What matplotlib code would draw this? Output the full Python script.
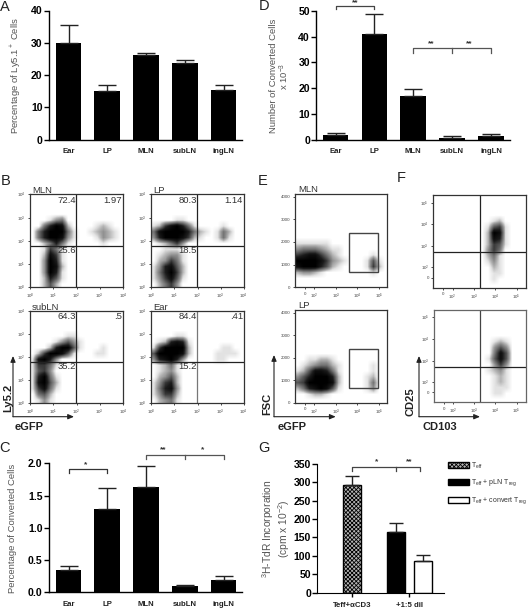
import matplotlib
matplotlib.use("Agg")
import matplotlib.pyplot as plt
import numpy as np
from matplotlib.colors import LinearSegmentedColormap
from matplotlib.patches import Patch, Rectangle

plt.rcParams['font.family'] = ['Liberation Sans', 'DejaVu Sans']
plt.rcParams['mathtext.fontset'] = 'custom'
plt.rcParams['mathtext.rm'] = 'Liberation Sans'
plt.rcParams['mathtext.it'] = 'Liberation Sans'
plt.rcParams['mathtext.bf'] = 'Liberation Sans:bold'
plt.rcParams['mathtext.default'] = 'regular'
plt.rcParams['hatch.linewidth'] = 0.6

# ---------- data ----------
tissues = ["Ear", "LP", "MLN", "subLN", "ingLN"]
pct_ly51 = [29.8, 15.1, 26.1, 23.8, 15.5]
pct_ly51_top = [35.5, 16.9, 26.7, 24.7, 17.0]
n_converted = [1.9, 41.2, 17.0, 0.6, 1.3]
n_converted_top = [2.5, 48.8, 19.6, 1.3, 2.1]
pct_converted = [0.34, 1.29, 1.64, 0.10, 0.19]
pct_converted_top = [0.41, 1.61, 1.96, 0.115, 0.25]

g_groups = ["Teff+αCD3", "+1:5 dil"]
g_names = ["T$_{eff}$", "T$_{eff}$ + pLN T$_{reg}$", "T$_{eff}$ + convert T$_{reg}$"]
g_values = [293, 165, 87]
g_tops = [316, 190, 102]

# hand-read dot density of each flow plot, top row first, 0 (no dots) .. 9 (solid)
B_MLN = ["0000000000000000", "0000000000000000", "0000000000000000", "0000000000000000",
         "0001340000000000", "0047982000012100", "0479994100123210", "0479983100013210",
         "0024741000001000", "0016410000000000", "0028610000000000", "0039710000000000",
         "0039820000000000", "0039710000000000", "0027510000000000", "0025200000000000"]
B_LP = ["0000000000000000", "0000000000000000", "0000000000000000", "0000000000000000",
        "0000110000000000", "1268974100001000", "4899997421014200", "3799986210014100",
        "0124630000000000", "0011100000000000", "0123310000000000", "0236410000000000",
        "1378520000000000", "1479620000000000", "1368510000000000", "0246300000000000"]
B_SUB = ["0000000000000000", "0000000000000000", "0000000000000000", "0000000000000000",
         "0000001100000000", "0000135310000000", "0002799510001000", "0269985100011000",
         "1897300000000000", "1664100000000000", "1563000000000000", "1794100000000000",
         "1895200000000000", "1684100000000000", "0452000000000000", "0131000000000000"]
B_EAR = ["0000000000000000", "0000000000000000", "0000000000000000", "0000000000000000",
         "0000110000000000", "0127871000000000", "1699992000001100", "5999982000011110",
         "3789730000011000", "0124100000000000", "0123100000000000", "0235200000000000",
         "1367200000000000", "1478300000000000", "1366200000000000", "0234100000000000"]
E_MLN = ["0000000000000000", "0000000000000000", "0000000000000000", "0000000000000000",
         "0000000000000000", "0000000000000000", "0000000000000000", "0000000000000000",
         "1111110000000000", "3444321100000000", "6788642100000100", "9999863210001510",
         "8999752100001620", "2332100000000100", "0000000000000000", "0000000000000000"]
E_LP = ["0000000000000000", "0000000000000000", "0000000000000000", "0000000000000000",
        "0000000000000000", "0000000000000000", "0000000000000000", "0000000000000000",
        "0011221000000000", "0123442100000100", "1258874100000100", "3579997200001200",
        "5699998200001400", "2478985100001300", "0012210000000000", "0000000000000000"]
F_TOP = ["0000000000000000", "0000000000000000", "0000000000000000", "0000000000000000",
         "0000000000120000", "0000000001561000", "0000000002981000", "0000000002871000",
         "0000000002651000", "0000000003640000", "0000000002410000", "0000000001310000",
         "0000000000210000", "0000000000110000", "0000000000100000", "0000000000000000"]
F_BOT = ["0000000000000000", "0000000000000000", "0000000000000000", "0000000000000000",
         "0000000000000000", "0000000000121000", "0000000000353000", "0000000000485000",
         "0000000001585000", "0000000000363000", "0000000001231000", "0000000000121000",
         "0000000000121000", "0000000000111000", "0000000000110000", "0000000000000000"]

# ---------- layout helpers (pixel coordinates of the 528x608 picture) ----------
W, H = 528, 608
fig = plt.figure(figsize=(W / 100, H / 100), dpi=100, facecolor="white")
DARK = "#333333"
GREY = "#555555"


def ax_px(l, t, r, b):
    return fig.add_axes([l / W, 1 - b / H, (r - l) / W, (b - t) / H])


def ftext(x, y, s, **kw):
    kw.setdefault("ha", "center")
    kw.setdefault("va", "center")
    return fig.text(x / W, 1 - y / H, s, **kw)


def bar_panel(box, values, tops, ymax, yticks, yfmt, centers_px):
    ax = ax_px(*box)
    l, t, r, b = box
    step = (centers_px[-1] - centers_px[0]) / 4
    ax.set_xlim((l - centers_px[0]) / step, (r - centers_px[0]) / step)
    ax.set_ylim(0, ymax)
    x = np.arange(len(values))
    ax.bar(x, values, width=0.66, color="black", edgecolor="black", linewidth=0)
    ax.errorbar(x, values, yerr=[np.zeros(len(values)), np.array(tops) - np.array(values)],
                fmt="none", ecolor="#222222", elinewidth=1, capsize=6.5, capthick=1)
    ax.set_xticks(x, tissues, fontsize=5.6, fontweight="bold", color="#222222")
    ax.tick_params(axis="x", length=0, pad=6)
    ax.set_yticks(yticks, [yfmt % v for v in yticks], fontsize=7.6, fontweight="bold")
    ax.tick_params(axis="y", length=3.5, width=1, pad=0.8)
    for s in ("top", "right"):
        ax.spines[s].set_visible(False)
    for s in ("left", "bottom"):
        ax.spines[s].set_linewidth(1)
    return ax


def bracket(ax, xs, y, drop, color="#333333"):
    ax.plot([xs[0], xs[0], xs[-1], xs[-1]], [y - drop, y, y, y - drop], color=color, lw=0.9, clip_on=False)
    for xm in xs[1:-1]:
        ax.plot([xm, xm], [y, y - drop], color=color, lw=0.9, clip_on=False)


def stars(ax, x, y, s):
    ax.text(x, y, s, fontsize=6, fontweight="bold", ha="center", va="center", color="#333333", clip_on=False)


FLOW = LinearSegmentedColormap.from_list(
    "flow", [(0, "#ffffff"), (1 / 9, "#e2e2e2"), (2 / 9, "#b4b4b4"), (3 / 9, "#909090"),
             (5 / 9, "#565656"), (7 / 9, "#1c1c1c"), (1, "#000000")])


def flow_panel(box, grid, xlim, ylim, xticks, xlabs, yticks, ylabs, edge=DARK):
    ax = ax_px(*box)
    vals = np.array([[int(c) for c in row] for row in grid], dtype=float)
    ax.imshow(vals, extent=[xlim[0], xlim[1], ylim[0], ylim[1]], aspect="auto", origin="upper",
              cmap=FLOW, vmin=0, vmax=9, interpolation="bilinear", zorder=0)
    ax.set_xlim(*xlim)
    ax.set_ylim(*ylim)
    ax.set_xticks(xticks, xlabs, fontsize=3.2, color="#444444")
    ax.set_yticks(yticks, ylabs, fontsize=3.2, color="#444444")
    ax.tick_params(length=1.6, width=0.5, pad=1.5)
    for s in ax.spines.values():
        s.set_linewidth(0.9)
        s.set_color(edge)
    return ax


# ---------- A ----------
centers = [68.5, 107, 146, 185, 223.5]
axA = bar_panel((48.5, 10.5, 242, 139.5), pct_ly51, pct_ly51_top, 40, [0, 10, 20, 30, 40], "%d", centers)
ftext(16, 76, "Percentage of Ly5.1$^+$ Cells", rotation=90, fontsize=6.8, color=GREY)

# ---------- D ----------
centersD = [335.5, 374, 413, 452, 491]
axD = bar_panel((316, 11, 510, 139.7), n_converted, n_converted_top, 50, [0, 10, 20, 30, 40, 50], "%d", centersD)
ftext(280, 76, "Number of Converted Cells\nx 10$^{-3}$", rotation=90, fontsize=6.8, color=GREY, linespacing=1.0)
bracket(axD, [0, 1], 52.0, 1.3, "#444444")
stars(axD, 0.5, 53.2, "**")
bracket(axD, [2, 3, 4], 35.5, 1.7, GREY)
stars(axD, 2.45, 37.3, "**")
stars(axD, 3.45, 37.3, "**")

# ---------- C ----------
axC = bar_panel((48.5, 463.3, 242, 592.3), pct_converted, pct_converted_top, 2.0, [0, 0.5, 1.0, 1.5, 2.0], "%.1f", centers)
ftext(13, 528, "Percentage of Converted Cells", rotation=90, fontsize=6.8, color=GREY)
bracket(axC, [0, 1], 1.907, 0.062)
stars(axC, 0.45, 1.975, "*")
bracket(axC, [2, 3, 4], 2.13, 0.066, GREY)
stars(axC, 2.45, 2.205, "**")
stars(axC, 3.45, 2.205, "*")

# ---------- G ----------
axG = ax_px(317, 463.7, 444, 592.7)
g_x = [0, 0.768, 1.232]
axG.set_xlim(-0.61, 1.605)
axG.set_ylim(0, 350)
axG.bar(g_x[0], g_values[0], width=0.314, facecolor="#b5b5b5", edgecolor="black", hatch="xxxxxxxx", linewidth=1)
axG.bar(g_x[1], g_values[1], width=0.314, color="black", edgecolor="black", linewidth=1)
axG.bar(g_x[2], g_values[2], width=0.314, color="white", edgecolor="black", linewidth=1)
axG.errorbar(g_x, g_values, yerr=[[0, 0, 0], np.array(g_tops) - np.array(g_values)], fmt="none",
             ecolor="#222222", elinewidth=1, capsize=4.8, capthick=1)
axG.set_xticks([0, 1], g_groups, fontsize=5.6, fontweight="bold", color="#222222")
axG.tick_params(axis="x", length=3, width=1, pad=3.5)
axG.set_yticks(range(0, 351, 50), [str(v) for v in range(0, 351, 50)], fontsize=7.6, fontweight="bold")
axG.tick_params(axis="y", length=3.5, width=1, pad=0.8)
axG.spines["top"].set_visible(False)
axG.spines["right"].set_visible(False)
bracket(axG, [0, 0.768, 1.194], 342, 11, "#444444")
stars(axG, 0.43, 355, "*")
stars(axG, 1.0, 355, "**")
ftext(276, 529, "$^3$H-TdR Incorporation\n(cpm x 10$^{-2}$)", rotation=90, fontsize=7.4, color=GREY, linespacing=1.0)
handles = [Patch(facecolor="#b5b5b5", edgecolor="black", hatch="xxxxxxxx", lw=1),
           Patch(facecolor="black", edgecolor="black", lw=1),
           Patch(facecolor="white", edgecolor="black", lw=1)]
leg = fig.legend(handles, g_names, loc="upper left", bbox_to_anchor=(448 / W, 1 - 460.5 / H), frameon=False,
                 fontsize=5.0, handlelength=3.0, handleheight=1.0, handletextpad=0.35, labelspacing=1.0,
                 borderpad=0, borderaxespad=0, labelcolor="#333333")

# ---------- B ----------
dec = [0, 1, 2, 3, 4]
dec_l = ["10$^{%d}$" % d for d in dec]


def b_panel(box, grid, name, nums, hline, edge=DARK, vcolor="#222222"):
    ax = flow_panel(box, grid, (0, 4), (0, 4), dec, dec_l, dec, dec_l, edge)
    ax.axvline(1.99, color=vcolor, lw=0.9)
    ax.axhline(hline, color="#222222", lw=0.9)
    ax.text(1.97, 3.75, nums[0], ha="right", va="center", fontsize=6.8, color=DARK)
    ax.text(3.97, 3.75, nums[1], ha="right", va="center", fontsize=6.8, color=DARK)
    ax.text(1.97, hline - 0.17, nums[2], ha="right", va="center", fontsize=6.8, color=DARK)
    ftext(box[0] + 2, box[1] - 3.6, name, ha="left", fontsize=6.8, color=DARK)
    return ax


b_panel((30, 194.3, 123, 287.3), B_MLN, "MLN", ["72.4", "1.97", "25.6"], 1.76)
b_panel((151.3, 194.3, 243.7, 287.3), B_LP, "LP", ["80.3", "1.14", "18.5"], 1.76)
b_panel((30, 310.7, 123, 403.3), B_SUB, "subLN", ["64.3", ".5", "35.2"], 1.77)
b_panel((151.3, 310.7, 243.7, 403.3), B_EAR, "Ear", ["84.4", ".41", "15.2"], 1.77, vcolor="#777777")

# ---------- E ----------
ex_t = [1.57, 2, 3, 4, 5]
ex_l = ["0", "10$^{2}$", "10$^{3}$", "10$^{4}$", "10$^{5}$"]
ey_t = [0, 1000, 2000, 3000, 4000]
ey_l = [str(v) for v in ey_t]
for box, grid, name, gate in (((294.7, 194.3, 387.3, 287.3), E_MLN, "MLN", (662, 2382)),
                              ((294.7, 310.3, 387.3, 403), E_LP, "LP", (647, 2368))):
    ax = flow_panel(box, grid, (1.1, 5.38), (0, 4100), ex_t, ex_l, ey_t, ey_l)
    ax.add_patch(Rectangle((3.63, gate[0]), 1.34, gate[1] - gate[0], fill=False, ec="#444444", lw=1))
    ftext(box[0] + 4, box[1] - 5, name, ha="left", fontsize=6.8, color=DARK)

# ---------- F ----------
fx_t = [1.56, 2, 3, 4, 5]
fy_l = ["0", "10$^{2}$", "10$^{3}$", "10$^{4}$", "10$^{5}$"]
axF1 = flow_panel((433.3, 195, 526, 288), F_TOP, (1.09, 5.44), (1.02, 5.375), fx_t, ex_l, [1.5, 2, 3, 4, 5], fy_l)
axF1.axvline(3.3, color="#222222", lw=0.9)
axF1.axhline(2.7, color="#222222", lw=0.9)
axF2 = flow_panel((433.7, 310.3, 526, 402.3), F_BOT, (1.09, 5.44), (1.08, 5.32), fx_t, ex_l, [1.54, 2, 3, 4, 5], fy_l, "#666666")
axF2.axvline(3.28, color="#444444", lw=0.9)
axF2.axhline(2.69, color="#222222", lw=0.9)

# ---------- arrows and axis names ----------
ov = fig.add_axes([0, 0, 1, 1], facecolor="none")
ov.set_xlim(0, W)
ov.set_ylim(H, 0)
ov.axis("off")
for x0, y0, xtip, ytip in ((13, 416.7, 74, 356), (274, 416.7, 335.7, 355), (419, 416.7, 480, 356)):
    for tip in ((xtip, y0), (x0, ytip)):
        ov.annotate("", xy=tip, xytext=(x0, y0),
                    arrowprops=dict(arrowstyle="-|>,head_length=0.35,head_width=0.15", lw=0.8,
                                    color="#222222", shrinkA=0, shrinkB=0))
for x, y, s in ((8, 398, "Ly5.2"), (267, 404, "FSC"), (410.7, 401.7, "CD25")):
    ftext(x, y, s, rotation=90, fontsize=8, fontweight="bold", color="#222222")
for x, s in ((29.5, "eGFP"), (292.5, "eGFP"), (439.5, "CD103")):
    ftext(x, 427, s, fontsize=8, fontweight="bold", color="#222222")

for x, y, s in ((5, 7, "A"), (6, 181, "B"), (5, 448, "C"), (264, 6, "D"), (263, 181, "E"), (401, 178, "F"), (264, 448, "G")):
    ftext(x, y, s, fontsize=10.5, color="#222222")

fig.savefig("out.png", dpi=100, facecolor="white")
